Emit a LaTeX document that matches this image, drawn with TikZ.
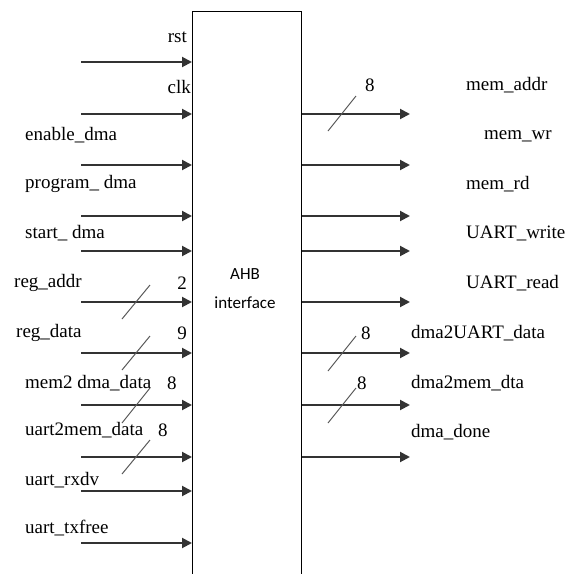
\documentclass[tikz,border=0pt]{standalone}
\usepackage{fontspec}
\setmainfont{Liberation Serif}
\newfontfamily\sigfont{Liberation Serif}
\newfontfamily\ahbfont{Carlito}
\usepackage{tikz}
\usetikzlibrary{arrows.meta}

\begin{document}
\begin{tikzpicture}[
  x=1pt, y=-1pt,
  font=\sigfont\fontsize{19}{23}\selectfont,
  lbl/.style={inner sep=0pt, anchor=west},
  sig/.style={-{Triangle[length=10pt,width=10pt]}, line width=2pt, black!80},
  bus/.style={line width=1pt, black!65}
]
\useasboundingbox (0,0) rectangle (565,574);
\node[draw, line width=1.3pt, minimum width=109pt, minimum height=585pt, anchor=north west, inner sep=0pt] (ahb) at (192,11) {};
\node[font=\ahbfont\fontsize{17}{29}\selectfont, align=center] (ahblbl) at (245,289) {AHB\\interface};

% inputs
\coordinate (rstin) at (81,62);
\coordinate (clkin) at (81,114);
\coordinate (enin) at (81,165);
\coordinate (progin) at (81,216);
\coordinate (startin) at (81,251);
\coordinate (addrin) at (81,302);
\coordinate (datain) at (81,353);
\coordinate (memin) at (81,405);
\coordinate (uartin) at (81,457);
\coordinate (rxdvin) at (81,491);
\coordinate (txfin) at (81,543);
\draw[sig] (rstin) -- (rstin -| ahb.west);
\draw[sig] (clkin) -- (clkin -| ahb.west);
\draw[sig] (enin) -- (enin -| ahb.west);
\draw[sig] (progin) -- (progin -| ahb.west);
\draw[sig] (startin) -- (startin -| ahb.west);
\draw[sig] (addrin) -- (addrin -| ahb.west);
\draw[sig] (datain) -- (datain -| ahb.west);
\draw[sig] (memin) -- (memin -| ahb.west);
\draw[sig] (uartin) -- (uartin -| ahb.west);
\draw[sig] (rxdvin) -- (rxdvin -| ahb.west);
\draw[sig] (txfin) -- (txfin -| ahb.west);

\node[lbl, anchor=east] (rst) at (187,37) {rst};
\node[lbl, anchor=east] (clk) at (191,87) {clk};
\node[lbl] (en) at (25,135) {enable\_dma};
\node[lbl] (prog) at (25,184) {program\_ dma};
\node[lbl] (start) at (25,233) {start\_ dma};
\node[lbl] (addr) at (14,283) {reg\_addr};
\node[lbl] (data) at (16,333) {reg\_data};
\node[lbl] (mem) at (25,383) {mem2 dma\_data};
\node[lbl] (uart) at (25,430) {uart2mem\_data};
\node[lbl] (rxdv) at (25,480) {uart\_rxdv};
\node[lbl] (txf) at (25,528) {uart\_txfree};
\node[lbl, anchor=east] (addrw) at (187,283) {2};
\node[lbl, anchor=east] (dataw) at (187,333) {9};
\node[lbl] (memw) at (167,383) {8};
\node[lbl] (uartw) at (158,430) {8};
\draw[bus] (150,285) -- (122,319);
\draw[bus] (150,336) -- (122,370);
\draw[bus] (150,388) -- (122,423);
\draw[bus] (150,440) -- (122,474);

% outputs
\coordinate (addrout) at (410,114);
\coordinate (wrout) at (410,165);
\coordinate (rdout) at (410,216);
\coordinate (uwout) at (410,251);
\coordinate (urout) at (410,302);
\coordinate (d2uout) at (410,353);
\coordinate (d2mout) at (410,405);
\coordinate (doneout) at (410,457);
\draw[sig] (addrout -| ahb.east) -- (addrout);
\draw[sig] (wrout -| ahb.east) -- (wrout);
\draw[sig] (rdout -| ahb.east) -- (rdout);
\draw[sig] (uwout -| ahb.east) -- (uwout);
\draw[sig] (urout -| ahb.east) -- (urout);
\draw[sig] (d2uout -| ahb.east) -- (d2uout);
\draw[sig] (d2mout -| ahb.east) -- (d2mout);
\draw[sig] (doneout -| ahb.east) -- (doneout);

\node[lbl] (maddr) at (466,85) {mem\_addr};
\node[lbl] (mwr) at (484,136) {mem\_wr};
\node[lbl] (mrd) at (466,184) {mem\_rd};
\node[lbl] (uw) at (466,233) {UART\_write};
\node[lbl] (ur) at (466,283) {UART\_read};
\node[lbl] (d2u) at (411,333) {dma2UART\_data};
\node[lbl] (d2m) at (411,383) {dma2mem\_dta};
\node[lbl] (done) at (411,432) {dma\_done};
\node[lbl] (maddrw) at (365,85) {8};
\node[lbl] (d2uw) at (361,333) {8};
\node[lbl] (d2mw) at (357,383) {8};
\draw[bus] (356,96) -- (328,131);
\draw[bus] (356,336) -- (328,371);
\draw[bus] (356,388) -- (328,423);
\end{tikzpicture}
\end{document}
